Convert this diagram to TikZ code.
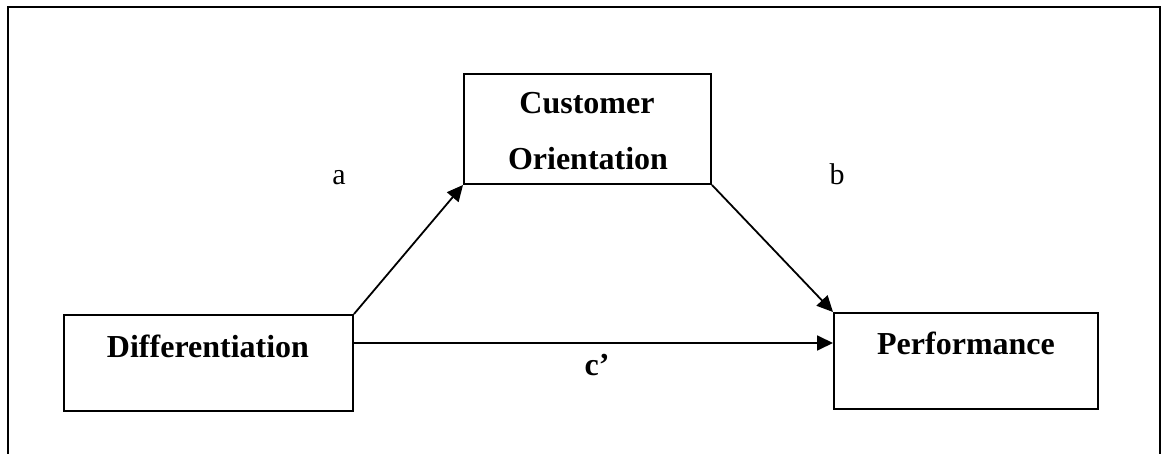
\documentclass[tikz,border=0pt]{standalone}
\usepackage{fontspec}
\setmainfont{Liberation Serif}
\usetikzlibrary{arrows.meta}
\begin{document}
\begin{tikzpicture}[x=1pt,y=-1pt,
  boxstyle/.style={draw,line width=2pt,inner sep=0pt},
  boxtext/.style={anchor=base,inner sep=0pt,font=\fontsize{32}{38}\selectfont\bfseries},
  conn/.style={line width=1.8pt,-{Triangle[length=16pt,width=15pt]}},
  lbl/.style={anchor=base,inner sep=0pt,font=\fontsize{30}{36}\selectfont}]
\useasboundingbox (0,0) rectangle (1162,454);
\clip (0,0) rectangle (1162,454);
\draw[line width=2.6pt] (8,470) -- (8,7) -- (1160,7) -- (1160,470);
\node[boxstyle,minimum width=289pt,minimum height=96pt] (diff) at (208.5,363) {};
\node[boxtext] (tdiff) at (208,357) {Differentiation};
\node[boxstyle,minimum width=247pt,minimum height=110pt] (co) at (587.5,129) {};
\node[boxtext] (tco1) at (587,114) {Customer};
\node[boxtext] (tco2) at (588,170) {Orientation};
\node[boxstyle,minimum width=264pt,minimum height=96pt] (perf) at (966,361) {};
\node[boxtext] (tperf) at (966,354) {Performance};
\draw[conn] (diff.north east) -- (co.south west);
\draw[conn] (co.south east) -- (perf.north west);
\draw[conn] (diff.east |- 0,343) -- (perf.west |- 0,343);
\node[lbl] (la) at (339,185) {a};
\node[lbl] (lb) at (837,185) {b};
\node[boxtext] (lc) at (597,375.5) {c’};
\end{tikzpicture}
\end{document}
